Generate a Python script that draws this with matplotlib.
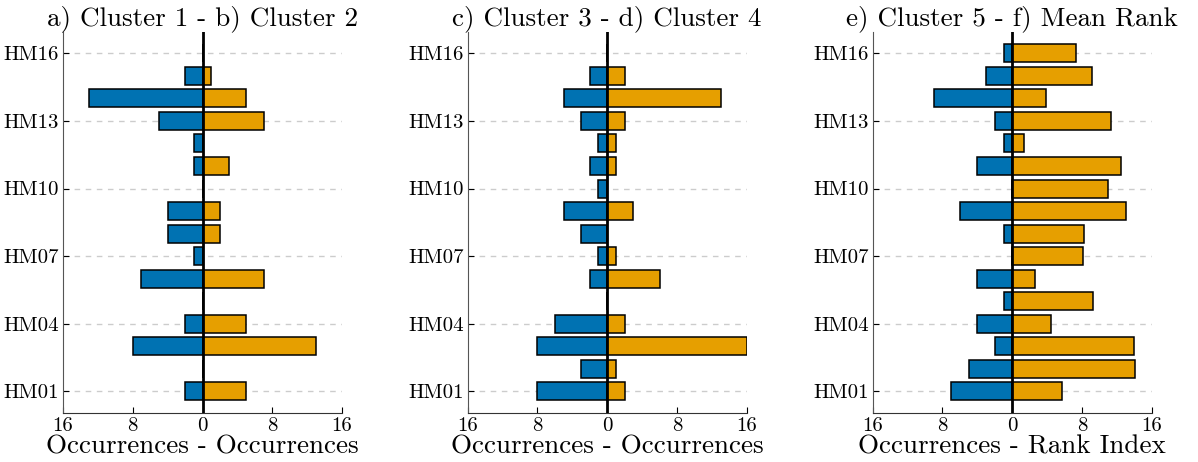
import numpy as np
import matplotlib
matplotlib.use("Agg")
import matplotlib.pyplot as plt

plt.rcParams['font.family'] = ['cmr10', 'DejaVu Serif']
plt.rcParams['axes.unicode_minus'] = False
plt.rcParams['mathtext.fontset'] = 'cm'

labels = ['HM%02d' % i for i in range(1, 17)]

# HM01 .. HM16
cluster1 = [2, 0, 8, 2, 0, 7, 1, 4, 4, 0, 1, 1, 5, 13, 2, 0]
cluster2 = [5, 0, 13, 5, 0, 7, 0, 2, 2, 0, 3, 0, 7, 5, 1, 0]
cluster3 = [8, 3, 8, 6, 0, 2, 1, 3, 5, 1, 2, 1, 3, 5, 2, 0]
cluster4 = [2, 1, 16, 2, 0, 6, 1, 0, 3, 0, 1, 1, 2, 13, 2, 0]
cluster5 = [7, 5, 2, 4, 1, 4, 0, 1, 6, 0, 4, 1, 2, 9, 3, 1]
mean_rank = [5.7, 14.1, 14.0, 4.45, 9.3, 2.65, 8.1, 8.25, 13.05, 11.0, 12.45, 1.35, 11.35, 3.85, 9.15, 7.3]

panels = [
    (cluster1, cluster2, 'a) Cluster 1 - b) Cluster 2', 'Occurrences - Occurrences'),
    (cluster3, cluster4, 'c) Cluster 3 - d) Cluster 4', 'Occurrences - Occurrences'),
    (cluster5, mean_rank, 'e) Cluster 5 - f) Mean Rank', 'Occurrences - Rank Index'),
]
lefts = [0.0526, 0.3904, 0.7285]

blue = '#0072B2'
orange = '#E69F00'

fig = plt.figure(figsize=(11.98, 4.62), dpi=100)
y = np.arange(len(labels))

for (left_vals, right_vals, title, xlabel), lx in zip(panels, lefts):
    ax = fig.add_axes([lx, 0.106, 0.2329, 0.8247])
    ax.barh(y, -np.array(left_vals, dtype=float), height=0.8, color=blue,
            edgecolor='black', linewidth=1.1, zorder=3)
    ax.barh(y, right_vals, height=0.8, color=orange,
            edgecolor='black', linewidth=1.1, zorder=3)
    ax.axvline(0, color='black', linewidth=2, zorder=4)
    ax.set_xlim(-16, 16)
    ax.set_ylim(-0.97, 15.95)
    ax.set_xticks([-16, -8, 0, 8, 16])
    ax.set_xticklabels(['16', '8', '0', '8', '16'])
    ax.set_yticks(y[::3])
    ax.set_yticklabels(labels[::3])
    ax.grid(axis='y', linestyle=(0, (4, 4)), color='#cccccc', linewidth=1, zorder=0)
    ax.tick_params(direction='in', length=4, labelsize=15, pad=3)
    for s in ['top', 'right']:
        ax.spines[s].set_visible(False)
    ax.spines['left'].set_color('#555555')
    ax.spines['bottom'].set_color('#333333')
    ax.set_title(title, fontsize=19.5, pad=2)
    ax.set_xlabel(xlabel, fontsize=19.5, labelpad=0)

fig.savefig('out.png', dpi=100)
